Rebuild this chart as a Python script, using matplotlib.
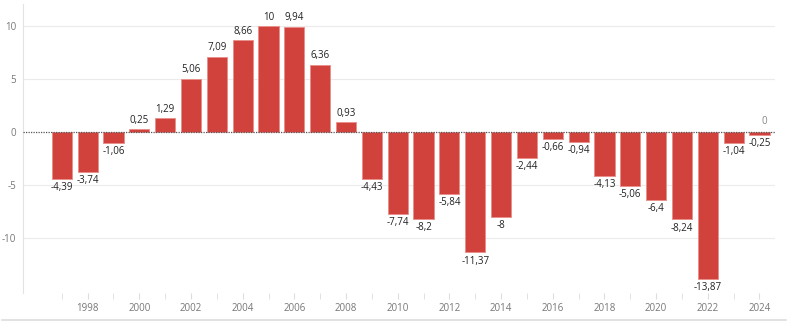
import numpy as np
import matplotlib as mpl
mpl.use('Agg')
import matplotlib.pyplot as plt
from matplotlib.lines import Line2D

plt.rcParams['font.family'] = ['Open Sans', 'DejaVu Sans']

# yearly values
years = list(range(1997, 2025))
values = [-4.39, -3.74, -1.06, 0.25, 1.29, 5.06, 7.09, 8.66, 10, 9.94, 6.36, 0.93,
          -4.43, -7.74, -8.2, -5.84, -11.37, -8, -2.44, -0.66, -0.94, -4.13, -5.06,
          -6.4, -8.24, -13.87, -1.04, -0.25]
tick_years = list(range(1998, 2025, 2))
y_ticks = [-10, -5, 0, 5, 10]

def fmt(v):
    s = ('%.2f' % v).rstrip('0').rstrip('.')
    return s.replace('.', ',')

fig = plt.figure(figsize=(7.88, 3.26), dpi=100)
ax = fig.add_axes([0.0292, 0.1012, 0.9543, 0.8865])

ax.bar(years, values, width=0.78, color='#d1423c', edgecolor='#e9918c',
       linewidth=0.7, zorder=3)

# value labels above / below the bars
for x, v in zip(years, values):
    if v >= 0:
        ax.text(x, v + 0.35, fmt(v), ha='center', va='bottom', fontsize=7,
                color='#222222', zorder=4)
    else:
        ax.text(x, v - 0.3, fmt(v), ha='center', va='top', fontsize=7,
                color='#222222', zorder=4)

# zero reference label
ax.text(2024.2, 0.45, '0', ha='center', va='bottom', fontsize=7, color='#888888')

ax.set_xlim(1995.5, 2024.6)
ax.set_ylim(-15.2, 12.1)

ax.axhline(0, color='#555555', linestyle=(0, (1, 1)), linewidth=0.9, zorder=5)
for yv in [-10, -5, 5, 10]:
    ax.axhline(yv, color='#ebebeb', linewidth=0.8, zorder=1)

ax.set_yticks(y_ticks)
ax.set_yticklabels([str(t) for t in y_ticks])
ax.set_xticks(years, minor=True)
ax.set_xticks(tick_years)
ax.set_xticklabels([str(t) for t in tick_years])

ax.tick_params(axis='y', length=0, labelsize=7, labelcolor='#777777', pad=5)
ax.tick_params(axis='x', which='both', length=4, color='#dddddd', direction='out',
               labelsize=7, labelcolor='#777777', pad=3)

for side in ['top', 'right', 'bottom']:
    ax.spines[side].set_visible(False)
ax.spines['left'].set_color('#e3e3e3')
ax.spines['left'].set_linewidth(0.8)

# separator line under the chart
fig.add_artist(Line2D([0.003, 0.997], [1 - 320 / 326, 1 - 320 / 326],
                      color='#dddddd', linewidth=1.2))

fig.savefig('out.png', dpi=100)
